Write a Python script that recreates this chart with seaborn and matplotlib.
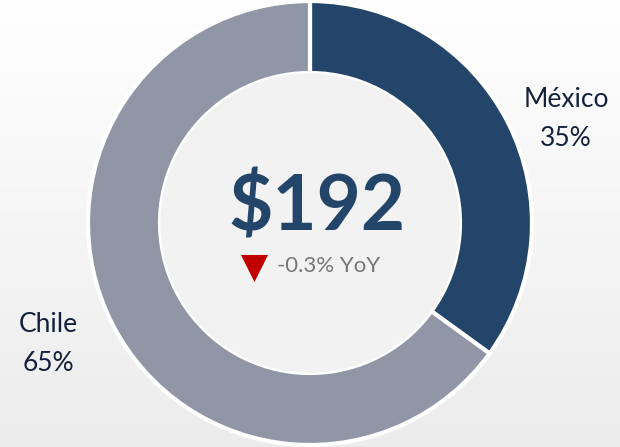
import numpy as np
import matplotlib.pyplot as plt
import seaborn as sns

# data
countries = ["México", "Chile"]
shares = [35, 65]
colors = ["#23456a", "#9196a7"]
total_value = "$192"
yoy_change = -0.3

sns.set_theme(style="white")
plt.rcParams["font.family"] = ["Lato", "DejaVu Sans"]

fig = plt.figure(figsize=(6.2, 4.47), dpi=100)
ax = fig.add_axes([0, 0, 1, 1])

# soft background gradient
grad = np.linspace(0, 1, 256).reshape(-1, 1)
ax.imshow(grad, extent=[0, 620, 0, 447], aspect="auto",
          cmap=sns.blend_palette(["#ececec", "#ffffff"], as_cmap=True),
          origin="lower", zorder=0)

cx, cy, r = 310, 224, 222
wedges, _ = ax.pie(shares, colors=colors, startangle=90, counterclock=False,
                   center=(cx, cy), radius=r, frame=True,
                   wedgeprops=dict(width=72, edgecolor="white", linewidth=3))
ax.set_xlim(0, 620)
ax.set_ylim(0, 447)
ax.set_aspect("auto")
ax.axis("off")

# inner circle fill
ax.add_patch(plt.Circle((cx, cy), r - 73, color="#f2f2f2", zorder=1))

# center KPI
ax.text(317, 447 - 208, total_value, ha="center", va="center", fontsize=55, fontweight="bold",
        color="#23456a", zorder=5)
ax.scatter([254], [447 - 268], marker="v", s=380, color="#c00000", zorder=5, linewidths=0)
ax.text(277, 447 - 266, f"{yoy_change:.1f}% YoY", ha="left", va="center", fontsize=16,
        color="#767676", zorder=5)

# labels
ax.text(566, 447 - 119, f"{countries[0]}\n{shares[0]}%", ha="center", va="center", fontsize=19,
        color="#14213d", linespacing=1.7, zorder=5)
ax.text(48, 447 - 344, f"{countries[1]}\n{shares[1]}%", ha="center", va="center", fontsize=19,
        color="#14213d", linespacing=1.7, zorder=5)

fig.savefig("out.png", dpi=100)
